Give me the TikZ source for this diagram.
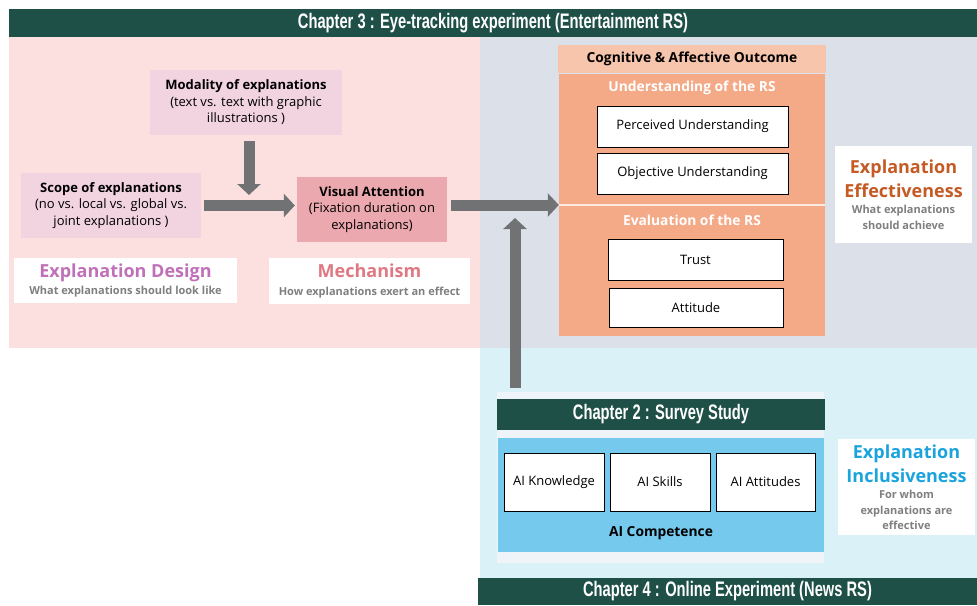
\documentclass[tikz,border=0pt]{standalone}
\usepackage{fontspec}
\setmainfont{Open Sans}
\newfontfamily\bannerfont[FakeStretch=0.7]{Liberation Sans}
\usetikzlibrary{arrows.meta}
\definecolor{chapGreen}{HTML}{1E5048}
\definecolor{designBg} {HTML}{FCE0E0}
\definecolor{effectBg} {HTML}{DCE0E8}
\definecolor{inclBg}   {HTML}{DAF1F8}
\definecolor{designBox}{HTML}{F2D3E0}
\definecolor{mechBox}  {HTML}{EBA8AE}
\definecolor{outHead}  {HTML}{F7C4AC}
\definecolor{outBody}  {HTML}{F4A987}
\definecolor{surveyBg} {HTML}{EEF4F8}
\definecolor{compBox}  {HTML}{75C9EC}
\definecolor{designTxt}{HTML}{C070B8}
\definecolor{mechTxt}  {HTML}{E07883}
\definecolor{effectTxt}{HTML}{C55A24}
\definecolor{inclTxt}  {HTML}{1AA3DD}
\definecolor{subTxt}   {HTML}{7F7F7F}
\definecolor{flowGray} {HTML}{707274}

% one line of a tag: big coloured title / small grey note
\newcommand\bigtag[2]{\textcolor{#1}{\bfseries\fontsize{18}{22}\selectfont #2}}
\newcommand\subtag[1]{\textcolor{subTxt}{\bfseries\fontsize{11}{14}\selectfont #1}}

\begin{document}
\begin{tikzpicture}[
  x=1pt,y=-1pt,
  font=\fontsize{13}{16.5}\selectfont,
  chapter/.style={fill=chapGreen,text=white,inner sep=0pt,
                  font=\bannerfont\bfseries\fontsize{21}{22}\selectfont},
  factor/.style={align=center,inner sep=0pt},
  item/.style={draw=black,line width=1pt,fill=white,inner sep=0pt,
               font=\fontsize{13}{15}\selectfont},
  tag/.style={fill=white,align=center,inner sep=0pt},
  head/.style={font=\bfseries\fontsize{13.8}{16}\selectfont},
  flow/.style={draw=flowGray,line width=11pt,-{Triangle[length=11pt,width=23pt]}},
]
\useasboundingbox (0,0) rectangle (977,605);

% ---- background panels ----------------------------------------------------
\fill[designBg] (9,37)   rectangle (480,348);
\fill[effectBg] (480,37) rectangle (977,348);
\fill[inclBg]   (480,348) rectangle (977,578);

% ---- chapter banners ------------------------------------------------------
\node[chapter,minimum width=968,minimum height=28] (ch3) at (493,23)
  {Chapter 3 : Eye-tracking experiment (Entertainment RS)};
\node[chapter,minimum width=499,minimum height=27] (ch4) at (727.5,591.5)
  {Chapter 4 : Online Experiment (News RS)};

% ---- explanation design ---------------------------------------------------
\node[factor,fill=designBox,minimum width=192,minimum height=65] (modality) at (246,102.5)
  {\textbf{Modality of explanations}\\(text vs. text with graphic\\illustrations )};
\node[factor,fill=designBox,minimum width=180,minimum height=65] (scope) at (111,205.5)
  {\textbf{Scope of explanations}\\(no vs. local vs. global vs.\\joint explanations )};
\node[factor,fill=mechBox,minimum width=150,minimum height=65] (va) at (372,209.5)
  {\textbf{Visual Attention}\\(Fixation duration on\\explanations)};

\node[tag,minimum width=223,minimum height=45] (design) at (125.5,280.5)
  {\bigtag{designTxt}{Explanation Design}\\[1pt]
   \subtag{What explanations should look like}};
\node[tag,minimum width=201,minimum height=46] (mech) at (369.5,281)
  {\bigtag{mechTxt}{Mechanism}\\[1pt]
   \subtag{How explanations exert an effect}};

% ---- outcome block --------------------------------------------------------
\node[fill=outHead,head,minimum width=268,minimum height=28,inner sep=0pt] (outhead) at (692,59)
  {Cognitive \& Affective Outcome};
\node[fill=outBody,minimum width=266,minimum height=262,inner sep=0pt] (outcome) at (692,205) {};
\draw[white!75!outBody,line width=1.5pt] (outcome.west) -- (outcome.east);
\node[head,text=white] (und) at (692,88)  {Understanding of the RS};
\node[head,text=white] (eval) at (692,220) {Evaluation of the RS};
\node[item,minimum width=191,minimum height=41] (pu) at (692.5,126.5) {Perceived Understanding};
\node[item,minimum width=191,minimum height=41] (ou) at (692.5,173.5) {Objective Understanding};
\node[item,minimum width=175,minimum height=41] (trust) at (695.5,259.5) {Trust};
\node[item,minimum width=174,minimum height=39] (att) at (696,307.5) {Attitude};

\node[tag,minimum width=137,minimum height=97] (effect) at (903.5,194.5)
  {\bigtag{effectTxt}{Explanation}\\[5pt]\bigtag{effectTxt}{Effectiveness}\\[0pt]
   \subtag{What explanations}\\[-1pt]\subtag{should achieve}};

% ---- survey block ---------------------------------------------------------
\node[fill=surveyBg,minimum width=327,minimum height=171,inner sep=0pt] (survey) at (660.5,477.5) {};
\node[chapter,minimum width=328,minimum height=31] (ch2) at (661,414.5) {Chapter 2 : Survey Study};
\node[fill=compBox,minimum width=326,minimum height=114,inner sep=0pt] (comp) at (661,495) {};
\node[item,minimum width=100,minimum height=58] (know) at (554,482) {AI Knowledge};
\node[item,minimum width=100,minimum height=58] (skill) at (660,482) {AI Skills};
\node[item,minimum width=99,minimum height=58] (attit) at (765.5,482) {AI Attitudes};
\node[head] (aicomp) at (661,533) {AI Competence};

\node[tag,minimum width=137,minimum height=96] (incl) at (906.5,487)
  {\bigtag{inclTxt}{Explanation}\\[5pt]\bigtag{inclTxt}{Inclusiveness}\\[0pt]
   \subtag{For whom}\\[-1pt]\subtag{explanations are}\\[-1pt]\subtag{effective}};

% ---- flows ----------------------------------------------------------------
\coordinate (join) at (249,195);
\coordinate (rise) at (515,218);
\draw[flow,shorten <=6pt] (modality.south -| join) -- (join);
\draw[flow,shorten <=3pt,shorten >=2pt] (scope.east) -- (scope.east -| va.west);
\draw[flow,shorten <=4pt] (va.east |- outcome.west) -- (outcome.west);
\draw[flow,shorten <=4pt] (survey.north -| rise) -- (rise);

\end{tikzpicture}
\end{document}
